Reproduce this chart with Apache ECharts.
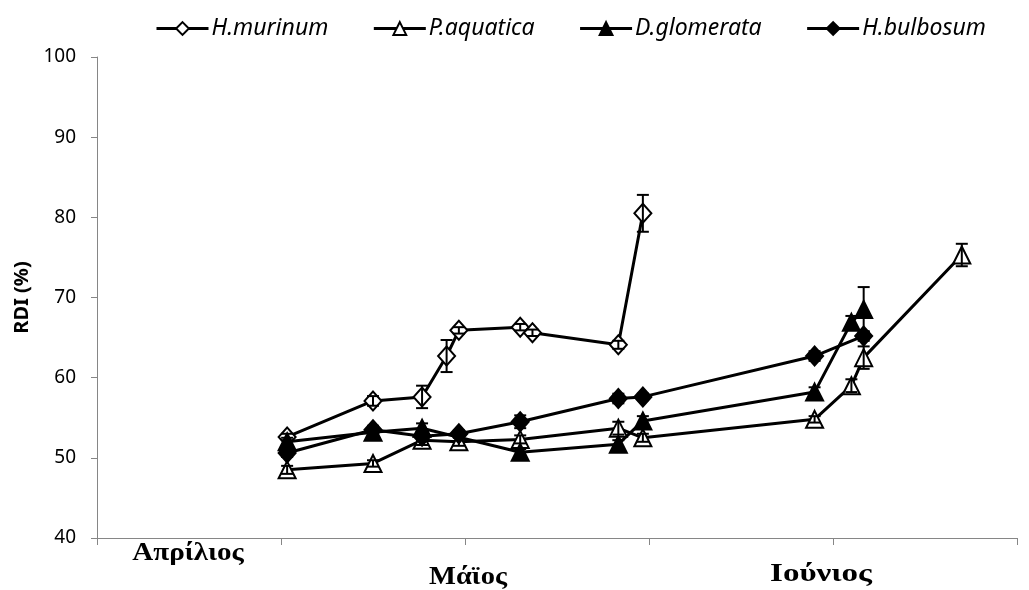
<!DOCTYPE html>
<html>
<head>
<meta charset="utf-8">
<script src="https://cdn.jsdelivr.net/npm/echarts@6/dist/echarts.min.js"></script>
<style>
  html, body { margin: 0; padding: 0; background: #fff; }
  #chart { width: 1029px; height: 590px; }
</style>
</head>
<body>
<div id="chart"></div>
<script>
// x = days from start of April (ticks every 30 days), y = RDI (%)
const murinumX = [31, 45, 53, 57, 59, 69, 71, 85, 89];
const murinumY = [52.6, 57.1, 57.6, 62.7, 65.9, 66.3, 65.6, 64.1, 80.5];
const murinumErr = [0.4, 0.6, 1.4, 2.0, 0.4, 0.4, 0.4, 0.5, 2.3];

const aquaticaX = [31, 45, 53, 59, 69, 85, 89, 117, 123, 125, 141];
const aquaticaY = [48.5, 49.3, 52.2, 52.0, 52.3, 53.7, 52.5, 54.8, 59.0, 62.5, 75.3];
const aquaticaErr = [0.5, 0.4, 0.6, 0.5, 0.5, 0.8, 0.5, 0.4, 0.8, 1.4, 1.4];

const glomerataX = [31, 45, 53, 69, 85, 89, 117, 123, 125];
const glomerataY = [52.0, 53.2, 53.7, 50.7, 51.7, 54.6, 58.2, 66.9, 68.5];
const glomerataErr = [0.5, 0.5, 0.6, 0.4, 0.5, 0.6, 0.6, 0.8, 2.8];

const bulbosumX = [31, 45, 53, 59, 69, 85, 89, 117, 125];
const bulbosumY = [50.6, 53.5, 52.7, 53.0, 54.5, 57.4, 57.6, 62.7, 65.2];
const bulbosumErr = [0.5, 0.5, 0.5, 0.4, 0.8, 0.6, 0.4, 0.6, 0.6];

const monthLabels = ['Απρίλιος', 'Μάϊος', 'Ιούνιος'];

function pts(xs, ys) { return xs.map((x, i) => [x, ys[i]]); }
function errPts(xs, ys, es) { return xs.map((x, i) => [x, ys[i] - es[i], ys[i] + es[i]]); }

// error bars w/ caps
function errRender(params, api) {
  const lo = api.coord([api.value(0), api.value(1)]);
  const hi = api.coord([api.value(0), api.value(2)]);
  const w = 6;
  const st = { stroke: '#000', lineWidth: 2 };
  return {
    type: 'group',
    children: [
      { type: 'line', shape: { x1: hi[0], y1: hi[1], x2: lo[0], y2: lo[1] }, style: st },
      { type: 'line', shape: { x1: hi[0] - w, y1: hi[1], x2: hi[0] + w, y2: hi[1] }, style: st },
      { type: 'line', shape: { x1: lo[0] - w, y1: lo[1], x2: lo[0] + w, y2: lo[1] }, style: st }
    ]
  };
}

function lineSeries(name, data, symbol, filled) {
  return {
    name: name,
    type: 'line',
    data: data,
    symbol: symbol,
    symbolSize: symbol === 'diamond' ? [17, 19] : [17, 17],
    lineStyle: { color: '#000', width: 3 },
    itemStyle: { color: filled ? '#000' : '#fff', borderColor: '#000', borderWidth: 2 },
    z: 3
  };
}

function errSeries(data) {
  return { type: 'custom', renderItem: errRender, data: data, z: 4, silent: true };
}

// month names look a bit stretched sideways in the original
function monthText(txt, x, y, sx) {
  return {
    type: 'text', x: x, y: y, scaleX: sx,
    style: { text: txt, font: 'bold 25px "Liberation Serif"', fill: '#000', textAlign: 'center', textVerticalAlign: 'middle' }
  };
}

const option = {
  backgroundColor: '#fff',
  animation: false,
  legend: {
    left: 150,
    top: 12,
    itemWidth: 52,
    itemHeight: 16,
    itemGap: 44,
    lineStyle: { width: 3, color: '#000' },
    textStyle: { fontFamily: 'Noto Sans', fontStyle: 'italic', fontSize: 23, color: '#000', padding: [0, 0, 0, -2] },
    data: ['H.murinum', 'P.aquatica', 'D.glomerata', 'H.bulbosum']
  },
  grid: { left: 97, right: 12, top: 57, bottom: 52 },
  xAxis: {
    type: 'value',
    min: 0,
    max: 150,
    interval: 30,
    axisLine: { lineStyle: { color: '#868686', width: 1 } },
    axisTick: { show: true, length: 7, lineStyle: { color: '#868686' } },
    axisLabel: { show: false },
    splitLine: { show: false }
  },
  yAxis: {
    type: 'value',
    min: 40,
    max: 100,
    interval: 10,
    name: 'RDI (%)',
    nameLocation: 'middle',
    nameGap: 58,
    nameTextStyle: { fontFamily: 'Noto Sans', fontWeight: 'bold', fontSize: 20, color: '#000' },
    axisLine: { show: true, lineStyle: { color: '#868686', width: 1 } },
    axisTick: { show: true, length: 6, lineStyle: { color: '#868686' } },
    axisLabel: { fontFamily: 'Noto Sans', fontSize: 19, color: '#000', margin: 21 },
    splitLine: { show: false }
  },
  graphic: [
    monthText(monthLabels[0], 188, 554, 1.16),
    monthText(monthLabels[1], 468, 578, 1.14),
    monthText(monthLabels[2], 821, 575, 1.32)
  ],
  series: [
    lineSeries('H.murinum', pts(murinumX, murinumY), 'diamond', false),
    lineSeries('P.aquatica', pts(aquaticaX, aquaticaY), 'triangle', false),
    lineSeries('D.glomerata', pts(glomerataX, glomerataY), 'triangle', true),
    lineSeries('H.bulbosum', pts(bulbosumX, bulbosumY), 'diamond', true),
    errSeries(errPts(murinumX, murinumY, murinumErr)),
    errSeries(errPts(aquaticaX, aquaticaY, aquaticaErr)),
    errSeries(errPts(glomerataX, glomerataY, glomerataErr)),
    errSeries(errPts(bulbosumX, bulbosumY, bulbosumErr))
  ]
};

var chart = echarts.init(document.getElementById('chart'));
chart.setOption(option);
</script>
</body>
</html>
